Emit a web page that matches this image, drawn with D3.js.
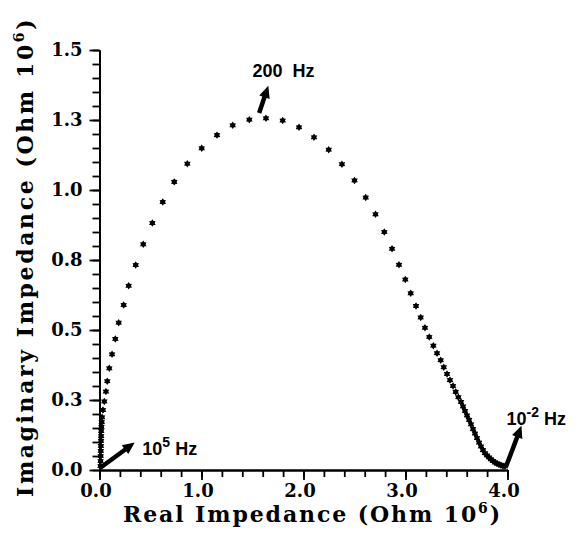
<!DOCTYPE html>
<html>
<head>
<meta charset="utf-8">
<script src="https://cdn.jsdelivr.net/npm/d3@7"></script>
<style>
  body { margin: 0; background: #fff; }
  .tick text { font-family: "DejaVu Serif", serif; font-weight: bold; font-size: 18px; fill: #000; }
  .title { font-family: "DejaVu Serif", serif; font-weight: bold; font-size: 22px; fill: #000; }
  .note { font-family: "Liberation Sans", Arial, sans-serif; font-weight: bold; font-size: 18px; fill: #000; }
</style>
</head>
<body>
<svg id="svg" width="579" height="535"></svg>
<script>
// impedance spectrum, high frequency (origin) to low frequency (right end), Ohm 10^6
const realZ = [
  0.010, 0.011, 0.012, 0.013, 0.014, 0.015, 0.016, 0.017, 0.019, 0.022,
  0.025, 0.034, 0.047, 0.063, 0.076, 0.096, 0.123, 0.155, 0.188, 0.237,
  0.286, 0.355, 0.429, 0.518, 0.620, 0.733, 0.861, 1.002, 1.152, 1.306,
  1.469, 1.632, 1.796, 1.956, 2.103, 2.247, 2.377, 2.500, 2.610, 2.706,
  2.792, 2.868, 2.936, 2.998, 3.051, 3.103, 3.149, 3.191, 3.233, 3.273,
  3.309, 3.345, 3.375, 3.407, 3.436, 3.466, 3.492, 3.518, 3.544, 3.564,
  3.583, 3.603, 3.623, 3.642, 3.662, 3.681, 3.701, 3.721, 3.740, 3.760,
  3.779, 3.799, 3.819, 3.838, 3.858, 3.877, 3.897, 3.917, 3.936, 3.956,
  3.975
]
const imagZ = [
  0.014, 0.032, 0.050, 0.068, 0.086, 0.104, 0.121, 0.139, 0.154, 0.171,
  0.188, 0.214, 0.245, 0.280, 0.317, 0.363, 0.413, 0.468, 0.526, 0.589,
  0.658, 0.732, 0.806, 0.882, 0.957, 1.029, 1.094, 1.149, 1.196, 1.231,
  1.251, 1.256, 1.248, 1.224, 1.188, 1.144, 1.092, 1.034, 0.973, 0.913,
  0.850, 0.790, 0.733, 0.680, 0.631, 0.586, 0.545, 0.508, 0.475, 0.444,
  0.417, 0.392, 0.367, 0.343, 0.321, 0.300, 0.279, 0.260, 0.243, 0.227,
  0.211, 0.195, 0.179, 0.163, 0.146, 0.130, 0.114, 0.098, 0.084, 0.071,
  0.060, 0.052, 0.045, 0.038, 0.032, 0.027, 0.023, 0.020, 0.017, 0.014,
  0.013
]

// frequency markers: arrow tail, arrow tip, label anchor (all in Ohm 10^6)
const arrowTails = [[0.005, 0.007], [1.565, 1.275], [3.985, 0.012]]
const arrowTips = [[0.345, 0.098], [1.655, 1.372], [4.137, 0.158]]
const labelAt = [[0.42, 0.052], [1.50, 1.404], [3.99, 0.161]]
const labelBase = ['10', '200  Hz', '10']
const labelSup = ['5', '', '-2']
const labelTail = [' Hz', '', ' Hz']

const xMajor = [0, 1, 2, 3, 4]
const xMinor = d3.range(0, 4.001, 0.2)
const yMajor = [0, 0.25, 0.5, 0.75, 1.0, 1.25, 1.5]
const yMajorLabels = ['0.0', '0.3', '0.5', '0.8', '1.0', '1.3', '1.5']
const yMinor = d3.range(0, 1.501, 0.05)

const svg = d3.select('#svg')

const xscale = d3.scaleLinear().domain([0, 4]).range([99.5, 507.5])
const yscale = d3.scaleLinear().domain([0, 1.5]).range([470, 50])

// axes: minor ticks first, then labelled majors on top
svg.append('g')
  .attr('transform', `translate(0, ${yscale(0)})`)
  .call(d3.axisBottom(xscale).tickValues(xMinor).tickSize(7).tickSizeOuter(0).tickFormat(''))
svg.append('g')
  .attr('transform', `translate(0, ${yscale(0)})`)
  .call(d3.axisBottom(xscale).tickValues(xMajor).tickSize(10).tickSizeOuter(0)
    .tickPadding(4).tickFormat(d3.format('.1f')))
  .call(g => g.selectAll('text').attr('dx', -4))

svg.append('g')
  .attr('transform', `translate(${xscale(0)}, 0)`)
  .call(d3.axisLeft(yscale).tickValues(yMinor).tickSize(7).tickSizeOuter(0).tickFormat(''))
svg.append('g')
  .attr('transform', `translate(${xscale(0)}, 0)`)
  .call(d3.axisLeft(yscale).tickValues(yMajor).tickSize(10).tickSizeOuter(0)
    .tickPadding(7).tickFormat((d, i) => yMajorLabels[i]))

svg.selectAll('.domain').attr('stroke-width', 2)
svg.selectAll('.tick line').attr('stroke-width', 1.8)

// six-pointed star marker
const star6 = {
  draw(ctx, size) {
    const r = Math.sqrt(size)
    for (let i = 0; i < 12; i++) {
      const a = Math.PI / 6 * i - Math.PI / 2
      const rr = i % 2 ? r * 0.62 : r
      if (i === 0) ctx.moveTo(rr * Math.cos(a), rr * Math.sin(a))
      else ctx.lineTo(rr * Math.cos(a), rr * Math.sin(a))
    }
    ctx.closePath()
  }
}

svg.append('g')
  .selectAll('path')
  .data(realZ.map((d, i) => [d, imagZ[i]]))
  .enter()
  .append('path')
  .attr('transform', d => `translate(${xscale(d[0])}, ${yscale(d[1])})`)
  .attr('d', d3.symbol().type(star6).size(14))
  .attr('fill', '#000')

// arrows
const arrowGroup = svg.append('g')
arrowTails.forEach((t, i) => {
  const x0 = xscale(t[0]), y0 = yscale(t[1])
  const x1 = xscale(arrowTips[i][0]), y1 = yscale(arrowTips[i][1])
  const len = Math.hypot(x1 - x0, y1 - y0)
  const ux = (x1 - x0) / len, uy = (y1 - y0) / len
  const hx = x1 - ux * 12, hy = y1 - uy * 12
  arrowGroup.append('line')
    .attr('x1', x0).attr('y1', y0)
    .attr('x2', hx + ux * 2).attr('y2', hy + uy * 2)
    .attr('stroke', '#000').attr('stroke-width', 4.5)
  arrowGroup.append('path')
    .attr('d', `M${x1},${y1}L${hx - uy * 5.5},${hy + ux * 5.5}L${hx + uy * 5.5},${hy - ux * 5.5}Z`)
    .attr('fill', '#000')
})

// frequency labels
labelAt.forEach((p, i) => {
  const t = svg.append('text').attr('class', 'note')
    .attr('x', xscale(p[0])).attr('y', yscale(p[1]))
    .attr('xml:space', 'preserve')
  t.append('tspan').text(labelBase[i])
  if (labelSup[i]) {
    t.append('tspan').attr('dy', -8).attr('font-size', 14).text(labelSup[i])
    t.append('tspan').attr('dy', 8).text(labelTail[i])
  }
})

// axis titles
const xt = svg.append('text').attr('class', 'title')
  .attr('letter-spacing', 1.9)
  .attr('x', 123).attr('y', 522)
xt.append('tspan').text('Real Impedance (Ohm 10')
xt.append('tspan').attr('dy', -9).attr('font-size', 14).text('6')
xt.append('tspan').attr('dy', 9).text(')')

const yt = svg.append('text').attr('class', 'title')
  .attr('letter-spacing', 2.6)
  .attr('transform', 'translate(33, 497) rotate(-90)')
yt.append('tspan').text('Imaginary Impedance (Ohm 10')
yt.append('tspan').attr('dy', -9).attr('font-size', 14).text('6')
yt.append('tspan').attr('dy', 9).text(')')
</script>
</body>
</html>
